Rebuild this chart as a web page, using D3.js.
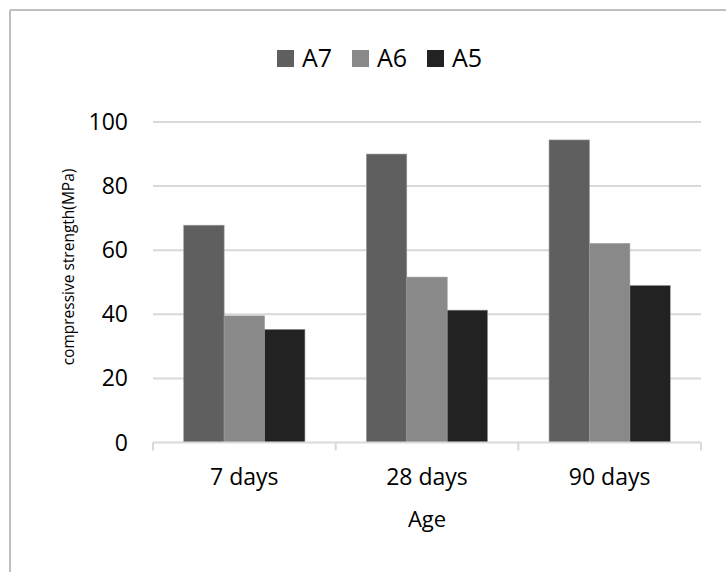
<!DOCTYPE html>
<html>
<head>
<meta charset="utf-8">
<script src="https://cdn.jsdelivr.net/npm/d3@7"></script>
<style>
  html, body { margin: 0; padding: 0; background: #fff; }
  svg { display: block; }
  text { font-family: "Open Sans", "Noto Sans", sans-serif; fill: #000; }
</style>
</head>
<body>
<script>
const categories = ["7 days", "28 days", "90 days"];
const seriesNames = ["A7", "A6", "A5"];
const seriesColors = ["#5f5f5f", "#898989", "#222222"];
const valuesA7 = [67.8, 90.0, 94.4];
const valuesA6 = [39.5, 51.6, 62.1];
const valuesA5 = [35.3, 41.3, 49.0];
const yTicks = [0, 20, 40, 60, 80, 100];
const yTitle = "compressive strength(MPa)";
const xTitle = "Age";

const seriesValues = [valuesA7, valuesA6, valuesA5];
const W = 726, H = 572;
const svg = d3.select("body").append("svg").attr("width", W).attr("height", H);

// frame (top and left edges visible)
svg.append("line").attr("x1", 10).attr("x2", W).attr("y1", 10).attr("y2", 10)
  .attr("stroke", "#bfbfbf").attr("stroke-width", 2);
svg.append("line").attr("x1", 10).attr("x2", 10).attr("y1", 10).attr("y2", H)
  .attr("stroke", "#bfbfbf").attr("stroke-width", 2);

const plot = { left: 153, right: 701, top: 122, bottom: 442.5 };
const y = d3.scaleLinear().domain([0, 100]).range([plot.bottom, plot.top]);
const x0 = d3.scaleBand().domain(categories).range([plot.left, plot.right]).paddingInner(0).paddingOuter(0);
const x1 = d3.scaleBand().domain(seriesNames).range([0, x0.bandwidth()]).paddingInner(0).paddingOuter(0.76);

// gridlines
svg.append("g").selectAll("line").data(yTicks.filter(d => d > 0)).join("line")
  .attr("x1", plot.left).attr("x2", plot.right)
  .attr("y1", d => y(d)).attr("y2", d => y(d))
  .attr("stroke", "#d9d9d9").attr("stroke-width", 2);

// y tick labels
svg.append("g").selectAll("text").data(yTicks).join("text")
  .attr("x", 128).attr("y", d => y(d)).attr("dy", "0.35em")
  .attr("text-anchor", "end").attr("font-size", 23)
  .text(d => d);

// bars
const groups = svg.append("g").selectAll("g").data(categories).join("g")
  .attr("transform", d => `translate(${x0(d)},0)`);
groups.selectAll("rect")
  .data((c, ci) => seriesNames.map((s, si) => ({ s, si, v: seriesValues[si][ci] })))
  .join("rect")
  .attr("x", d => x1(d.s)).attr("width", x1.bandwidth())
  .attr("y", d => y(d.v)).attr("height", d => y(0) - y(d.v))
  .attr("fill", d => seriesColors[d.si])
  .attr("stroke", "#9a9a9a").attr("stroke-width", 0.6);

// x axis
const xAxisG = svg.append("g");
xAxisG.append("line").attr("x1", plot.left).attr("x2", plot.right)
  .attr("y1", plot.bottom).attr("y2", plot.bottom)
  .attr("stroke", "#d9d9d9").attr("stroke-width", 2);
const boundaries = categories.map(c => x0(c)).concat([x0(categories[categories.length - 1]) + x0.bandwidth()]);
xAxisG.selectAll("line.tick").data(boundaries).join("line").attr("class", "tick")
  .attr("x1", d => d).attr("x2", d => d)
  .attr("y1", plot.bottom).attr("y2", plot.bottom + 8)
  .attr("stroke", "#d9d9d9").attr("stroke-width", 2);
xAxisG.selectAll("text").data(categories).join("text")
  .attr("x", d => x0(d) + x0.bandwidth() / 2).attr("y", 485)
  .attr("text-anchor", "middle").attr("font-size", 23)
  .text(d => d);

// axis titles
svg.append("text").attr("x", (plot.left + plot.right) / 2).attr("y", 527)
  .attr("text-anchor", "middle").attr("font-size", 22).text(xTitle);
svg.append("text").attr("transform", "translate(74,267) rotate(-90)")
  .attr("text-anchor", "middle").attr("font-size", 15.5).text(yTitle);

// legend
const legendX = [277, 352, 427];
const lg = svg.append("g").selectAll("g").data(seriesNames).join("g")
  .attr("transform", (d, i) => `translate(${legendX[i]},50)`);
lg.append("rect").attr("width", 17).attr("height", 17).attr("fill", (d, i) => seriesColors[i]);
lg.append("text").attr("x", 25).attr("y", 17).attr("font-size", 25).text(d => d);
</script>
</body>
</html>
